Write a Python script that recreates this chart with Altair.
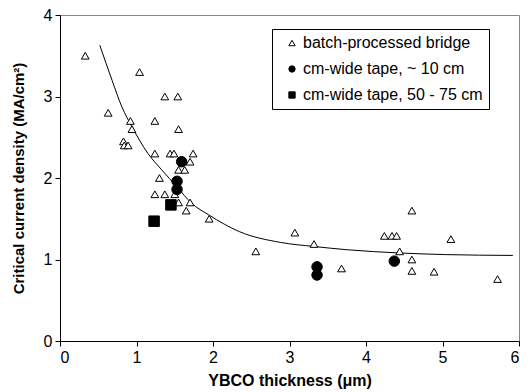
import altair as alt
import pandas as pd

# batch-processed bridge (open triangles)
tri_x = [0.33, 1.04, 0.63, 1.37, 1.54, 0.92, 1.24, 0.94, 1.55, 0.83, 0.84, 0.89,
         1.24, 1.44, 1.49, 1.74, 1.70, 1.55, 1.63, 1.30, 1.24, 1.37, 1.50, 1.55,
         1.70, 1.65, 1.95, 2.56, 3.07, 3.32, 3.68, 4.24, 4.34, 4.40, 4.60, 4.44,
         4.60, 4.60, 4.89, 5.11, 5.72]
tri_y = [3.50, 3.30, 2.80, 3.00, 3.00, 2.70, 2.70, 2.60, 2.60, 2.45, 2.40, 2.40,
         2.30, 2.30, 2.30, 2.30, 2.20, 2.10, 2.10, 2.00, 1.80, 1.80, 1.80, 1.70,
         1.70, 1.60, 1.50, 1.10, 1.33, 1.19, 0.89, 1.29, 1.29, 1.29, 1.60, 1.10,
         1.00, 0.86, 0.85, 1.25, 0.76]

# cm-wide tape, ~10 cm (filled circles)
cir_x = [1.59, 1.53, 1.53, 3.36, 3.36, 4.37]
cir_y = [2.20, 1.96, 1.86, 0.91, 0.81, 0.98]

# cm-wide tape, 50 - 75 cm (filled squares)
sq_x = [1.23, 1.45]
sq_y = [1.47, 1.67]

# fitted trend line
fit_x = [0.52, 0.68, 0.81, 0.94, 1.15, 1.33, 1.53, 1.72, 1.94, 2.35, 2.88, 3.32, 3.75, 4.44, 5.05, 5.92]
fit_y = [3.63, 3.20, 2.87, 2.63, 2.30, 2.10, 1.89, 1.69, 1.55, 1.34, 1.21, 1.16, 1.12, 1.08, 1.06, 1.05]

series = ["batch-processed bridge", "cm-wide tape, ~ 10 cm", "cm-wide tape, 50 - 75 cm"]

rows = []
for x, y in zip(tri_x, tri_y):
    rows.append({"x": x, "y": y, "s": series[0]})
for x, y in zip(cir_x, cir_y):
    rows.append({"x": x, "y": y, "s": series[1]})
for x, y in zip(sq_x, sq_y):
    rows.append({"x": x, "y": y, "s": series[2]})
pts = pd.DataFrame(rows)
fit = pd.DataFrame({"x": fit_x, "y": fit_y})

xs = alt.Scale(domain=[0, 6], nice=False)
ys = alt.Scale(domain=[0, 4], nice=False)

xax = alt.Axis(values=[0, 1, 2, 3, 4, 5, 6], title="YBCO thickness  (\u03bcm)", format="d",
               titleFontSize=16)
yax = alt.Axis(values=[0, 1, 2, 3, 4], title="Critical current density (MA/cm\u00b2)", format="d",
               titleFontSize=15)

shape_scale = alt.Scale(domain=series, range=["triangle-up", "circle", "square"])
fill_scale = alt.Scale(domain=series, range=["white", "black", "black"])
stroke_scale = alt.Scale(domain=series, range=["black", "black", "black"])

leg = alt.Legend(title=None, labelExpr="datum.label + '\u00a0\u00a0\u00a0\u00a0\u00a0\u00a0'")

line = alt.Chart(fit).mark_line(color="black", strokeWidth=1, interpolate="monotone").encode(
    x=alt.X("x:Q", scale=xs, axis=xax),
    y=alt.Y("y:Q", scale=ys, axis=yax),
)

base = alt.Chart(pts).encode(
    x=alt.X("x:Q", scale=xs),
    y=alt.Y("y:Q", scale=ys),
    shape=alt.Shape("s:N", scale=shape_scale, legend=leg),
    fill=alt.Fill("s:N", scale=fill_scale, legend=leg),
    stroke=alt.Stroke("s:N", scale=stroke_scale, legend=leg),
)

tri = base.transform_filter(alt.datum.s == series[0]).mark_point(
    strokeWidth=1, opacity=1, fillOpacity=1, size=60)
cir = base.transform_filter(alt.datum.s == series[1]).mark_point(
    strokeWidth=1, opacity=1, fillOpacity=1, size=110)
sq = base.transform_filter(alt.datum.s == series[2]).mark_point(
    strokeWidth=1, opacity=1, fillOpacity=1, size=110)

chart = alt.layer(line, tri, cir, sq).properties(
    width=459, height=326,
    autosize=alt.AutoSizeParams(type="none"),
    padding={"left": 52, "top": 7, "right": 4, "bottom": 50},
).configure_view(
    stroke="#888888", strokeWidth=1
).configure_axis(
    domainColor="black", tickColor="black", tickSize=5, grid=False,
    labelFont="Liberation Sans", labelFontSize=16, labelColor="black",
    titleFont="Liberation Sans", titleFontWeight="bold", titleColor="black",
    labelPadding=3,
).configure_axisY(
    titlePadding=17,
).configure_axisX(
    titlePadding=7,
).configure_legend(
    orient="none", legendX=212, legendY=14,
    strokeColor="black", fillColor="white", padding=6, cornerRadius=0,
    labelFont="Liberation Sans", labelFontSize=16, labelColor="black",
    symbolSize=40, symbolStrokeWidth=1, symbolOffset=6,
    rowPadding=10, labelOffset=3, labelLimit=400,
)

chart.save("out.html", embed_options={"renderer": "svg", "actions": False})
